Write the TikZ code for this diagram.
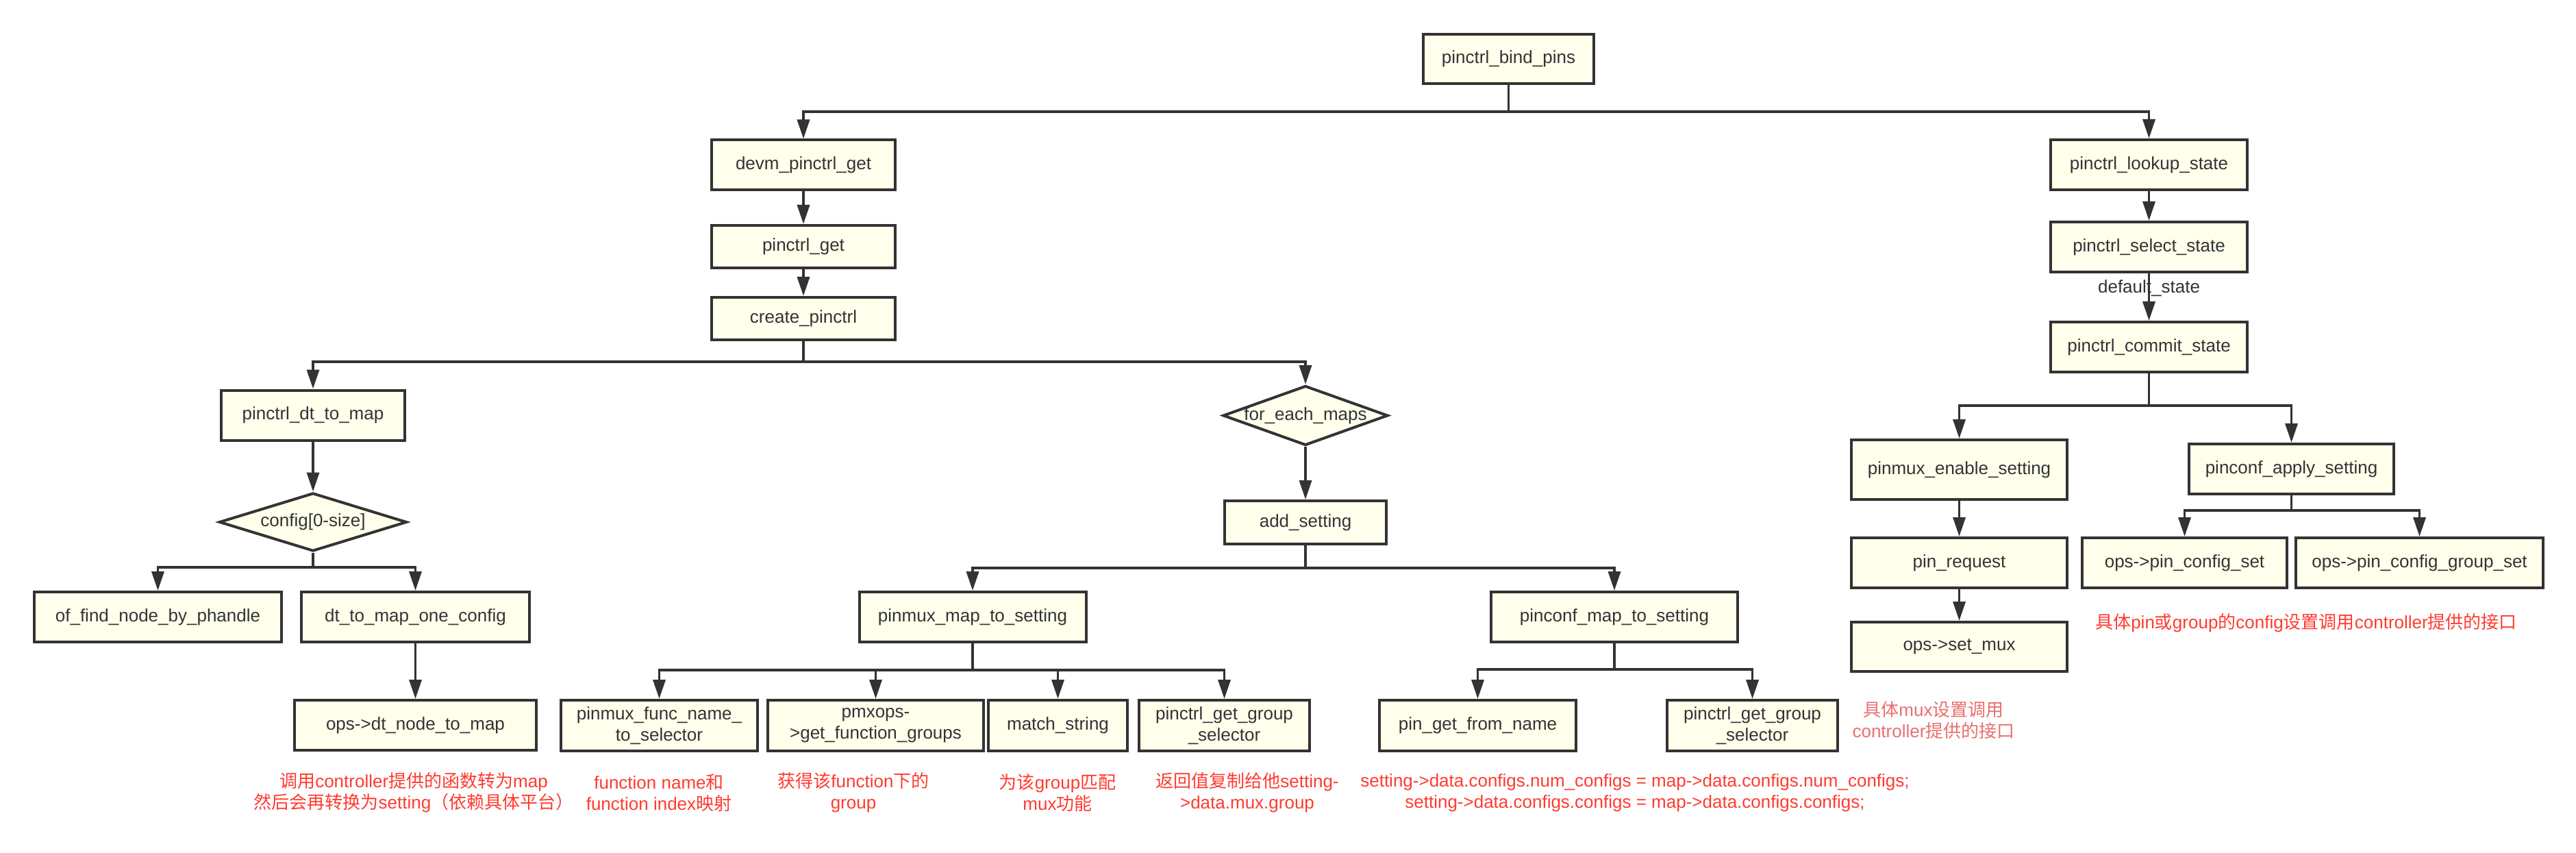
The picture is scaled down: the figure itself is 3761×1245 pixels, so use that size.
\documentclass[tikz,border=0pt]{standalone}
\usepackage{fontspec}
\setmainfont{Liberation Sans}
\newfontfamily\cjk{Noto Sans CJK SC}
\usetikzlibrary{arrows.meta,shapes.geometric}
\definecolor{boxfill}{HTML}{FFFFEC}
\definecolor{edgec}{HTML}{333333}
\definecolor{notered}{HTML}{FF3B30}
\definecolor{notelight}{HTML}{E96F6F}
\newcommand\myfs{\fontsize{13}{15.5}\selectfont}
\begin{document}
\begin{tikzpicture}[x=0.5pt,y=-0.5pt,
  box/.style={draw=edgec, fill=boxfill, line width=2pt, inner sep=0pt, text=edgec, font=\myfs, align=center},
  dia/.style={box, diamond, aspect=3},
  ln/.style={draw=edgec, line width=1.8pt},
  arr/.style={ln, -{Triangle[length=14pt,width=9pt]}},
  note/.style={text=notered, font=\myfs, align=center},
  lbl/.style={text=edgec, font=\myfs}]
\fill[white] (0,0) rectangle (3761,1245);
\useasboundingbox (0,0) rectangle (3761,1245);

% left / centre column
\node[box, minimum width=124.5pt, minimum height=36pt] (bind) at (2202.5,86) {pinctrl\_bind\_pins};
\node[box, minimum width=134pt, minimum height=36.5pt] (devm) at (1173,241) {devm\_pinctrl\_get};
\node[box, minimum width=134pt, minimum height=31pt] (pget) at (1173,360) {pinctrl\_get};
\node[box, minimum width=134pt, minimum height=31pt] (create) at (1173,465) {create\_pinctrl};
\node[box, minimum width=134pt, minimum height=36.5pt] (dtmap) at (457,606) {pinctrl\_dt\_to\_map};
\node[dia, minimum width=137pt, minimum height=42.5pt, label={[lbl]center:{config[0-size]}}] (cfg) at (457,762) {};
\node[box, minimum width=180.5pt, minimum height=36.5pt] (offind) at (230.5,900.5) {of\_find\_node\_by\_phandle};
\node[box, minimum width=166.5pt, minimum height=36.5pt] (dtone) at (606.5,900.5) {dt\_to\_map\_one\_config};
\node[box, minimum width=176.5pt, minimum height=36.5pt] (opsdt) at (606.5,1058.5) {ops->dt\_node\_to\_map};
\node[dia, minimum width=120.5pt, minimum height=43.5pt, label={[lbl]center:{for\_each\_maps}}] (foreach) at (1906,606.5) {};
\node[box, minimum width=118pt, minimum height=31.5pt] (addset) at (1906,762.5) {add\_setting};
\node[box, minimum width=165.5pt, minimum height=36.5pt] (pmxmap) at (1420,900.5) {pinmux\_map\_to\_setting};
\node[box, minimum width=180pt, minimum height=36.5pt] (pcfmap) at (2357,900.5) {pinconf\_map\_to\_setting};
\node[box, minimum width=143.5pt, minimum height=37pt] (fname) at (962.5,1059) {pinmux\_func\_name\_\\to\_selector};
\node[box, minimum width=157.5pt, minimum height=37pt] (pmxops) at (1278.5,1059) {pmxops-\\>get\_function\_groups};
\node[box, minimum width=101.5pt, minimum height=37pt] (match) at (1544.5,1059) {match\_string};
\node[box, minimum width=124.5pt, minimum height=37pt] (gselA) at (1787.5,1059) {pinctrl\_get\_group\\\_selector};
\node[box, minimum width=143.5pt, minimum height=37pt] (pgfn) at (2157.5,1059) {pin\_get\_from\_name};
\node[box, minimum width=124.5pt, minimum height=37pt] (gselB) at (2558.5,1059) {pinctrl\_get\_group\\\_selector};

% right column
\node[box, minimum width=143.5pt, minimum height=36.5pt] (lookup) at (3137.5,240.5) {pinctrl\_lookup\_state};
\node[box, minimum width=143.5pt, minimum height=36.5pt] (select) at (3137.5,360.5) {pinctrl\_select\_state};
\node[box, minimum width=143.5pt, minimum height=36.5pt] (commit) at (3137.5,506.5) {pinctrl\_commit\_state};
\node[box, minimum width=157.5pt, minimum height=43.5pt] (pmxen) at (2860.5,685.5) {pinmux\_enable\_setting};
\node[box, minimum width=149.5pt, minimum height=36.5pt] (pcfapply) at (3345.5,684.5) {pinconf\_apply\_setting};
\node[box, minimum width=157.5pt, minimum height=36.5pt] (pinreq) at (2860.5,821.5) {pin\_request};
\node[box, minimum width=157.5pt, minimum height=36pt] (setmux) at (2860.5,944) {ops->set\_mux};
\node[box, minimum width=149.5pt, minimum height=36.5pt] (pcset) at (3189.5,821.5) {ops->pin\_config\_set};
\node[box, minimum width=180.5pt, minimum height=36.5pt] (pcgset) at (3532.5,821.5) {ops->pin\_config\_group\_set};

% junctions
\coordinate (j1) at (2202.5,163);
\coordinate (j2) at (1173,528);
\coordinate (j3) at (457,828);
\coordinate (j4) at (1906,829);
\coordinate (j5) at (1420,978);
\coordinate (j6) at (2357,977);
\coordinate (j7) at (3137.5,592);
\coordinate (j8) at (3345.5,745);

% connectors
\draw[ln] (bind.south) -- (j1);
\draw[arr] (j1) -| (devm.north);
\draw[arr] (j1) -| (lookup.north);
\draw[arr] (devm) -- (pget);
\draw[arr] (pget) -- (create);
\draw[ln] (create.south) -- (j2);
\draw[arr] (j2) -| (dtmap.north);
\draw[arr] (j2) -| (foreach.north);
\draw[arr] (dtmap) -- (cfg);
\draw[ln] (cfg.south) -- (j3);
\draw[arr] (j3) -| (offind.north);
\draw[arr] (j3) -| (dtone.north);
\draw[arr] (dtone) -- (opsdt);
\draw[arr] (foreach) -- (addset);
\draw[ln] (addset.south) -- (j4);
\draw[arr] (j4) -| (pmxmap.north);
\draw[arr] (j4) -| (pcfmap.north);
\draw[ln] (pmxmap.south) -- (j5);
\draw[arr] (j5) -| (fname.north);
\draw[arr] (j5) -| (pmxops.north);
\draw[arr] (j5) -| (match.north);
\draw[arr] (j5) -| (gselA.north);
\draw[ln] (pcfmap.south) -- (j6);
\draw[arr] (j6) -| (pgfn.north);
\draw[arr] (j6) -| (gselB.north);
\draw[arr] (lookup) -- (select);
\draw[arr] (select) -- (commit);
\draw[ln] (commit.south) -- (j7);
\draw[arr] (j7) -| (pmxen.north);
\draw[arr] (j7) -| (pcfapply.north);
\draw[arr] (pmxen) -- (pinreq);
\draw[arr] (pinreq) -- (setmux);
\draw[ln] (pcfapply.south) -- (j8);
\draw[arr] (j8) -| (pcset.north);
\draw[arr] (j8) -| (pcgset.north);

% labels and notes
\node[lbl] (dflt) at (3137.5,421) {default\_state};
\node[note] (n1) at (604,1157) {{\cjk 调用}controller{\cjk 提供的函数转为}map\\{\cjk 然后会再转换为}setting{\cjk （依赖具体平台）}};
\node[note] (n2) at (962,1157) {function name{\cjk 和}\\function index{\cjk 映射}};
\node[note] (n3) at (1246,1157) {{\cjk 获得该}function{\cjk 下的}\\group};
\node[note] (n4) at (1544,1157) {{\cjk 为该}group{\cjk 匹配}\\mux{\cjk 功能}};
\node[note] (n5) at (1821,1157) {{\cjk 返回值复制给他}setting-\\>data.mux.group};
\node[note] (n6) at (2387,1157) {setting->data.configs.num\_configs = map->data.configs.num\_configs;\\setting->data.configs.configs = map->data.configs.configs;};
\node[note] (n7) at (3367,909) {{\cjk 具体}pin{\cjk 或}group{\cjk 的}config{\cjk 设置调用}controller{\cjk 提供的接口}};
\node[note, text=notelight] (n8) at (2823,1051) {{\cjk 具体}mux{\cjk 设置调用}\\controller{\cjk 提供的接口}};
\end{tikzpicture}
\end{document}
